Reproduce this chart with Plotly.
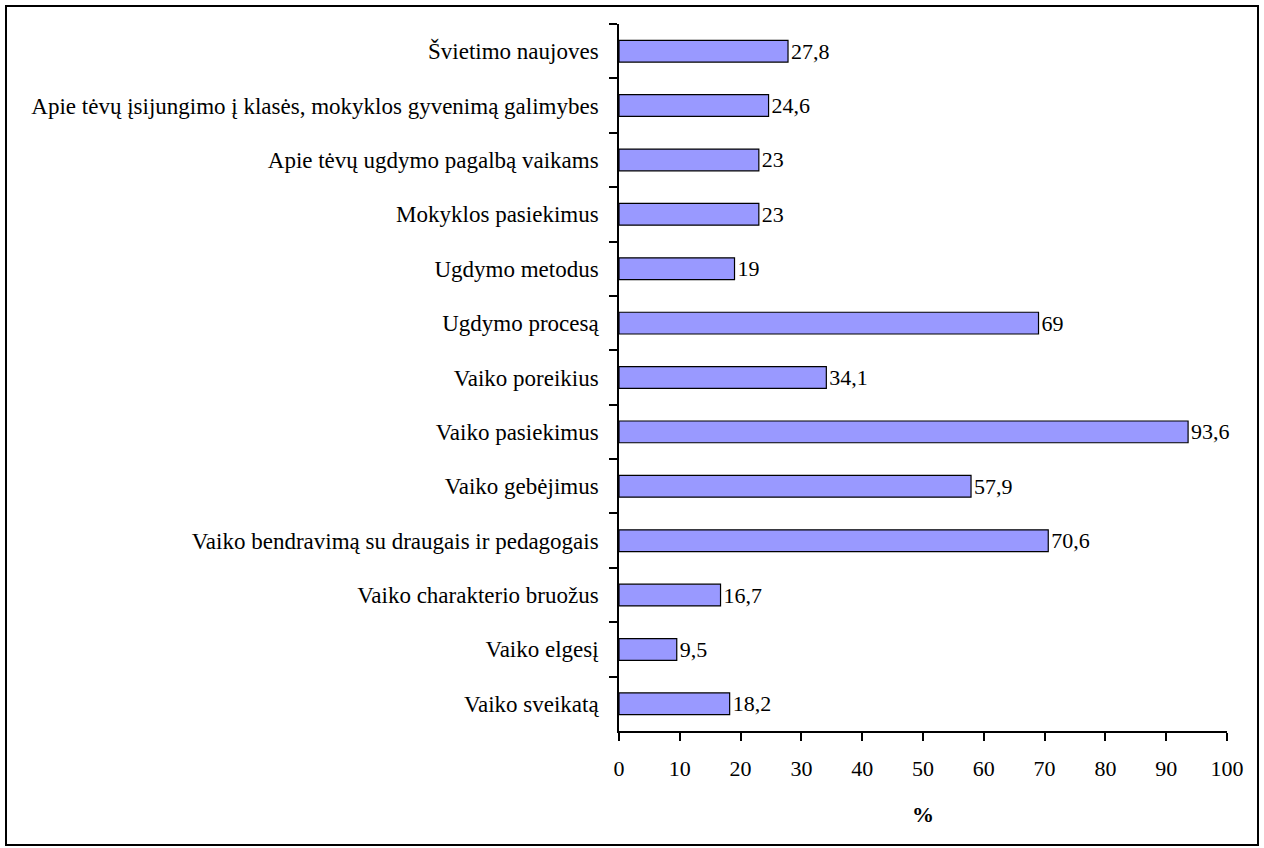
import plotly.graph_objects as go

categories = [
    "Švietimo naujoves",
    "Apie tėvų įsijungimo į klasės, mokyklos gyvenimą galimybes",
    "Apie tėvų ugdymo pagalbą vaikams",
    "Mokyklos pasiekimus",
    "Ugdymo metodus",
    "Ugdymo procesą",
    "Vaiko poreikius",
    "Vaiko pasiekimus",
    "Vaiko gebėjimus",
    "Vaiko bendravimą su draugais ir pedagogais",
    "Vaiko charakterio bruožus",
    "Vaiko elgesį",
    "Vaiko sveikatą",
]
values = [27.8, 24.6, 23, 23, 19, 69, 34.1, 93.6, 57.9, 70.6, 16.7, 9.5, 18.2]
x_ticks = [0, 10, 20, 30, 40, 50, 60, 70, 80, 90, 100]

labels = [("%g" % v).replace(".", ",") for v in values]

FONT = "Liberation Serif"

fig = go.Figure(go.Bar(
    x=values, y=categories, orientation="h",
    marker=dict(color="#9999FF", line=dict(color="black", width=1.2)),
    text=labels, textposition="outside", cliponaxis=False,
    constraintext="none",
    textfont=dict(family=FONT, size=22, color="black"),
))

W, H = 1264, 848
L, R, T, B = 619, 1227, 24, 731
pw, ph = R - L, B - T

def px(x):
    return (x - L) / pw

def py(y):
    return (B - y) / ph

fig.update_layout(
    width=W, height=H,
    margin=dict(l=L, r=W - R, t=T, b=H - B),
    paper_bgcolor="white", plot_bgcolor="white",
    bargap=0.6, showlegend=False,
    font=dict(family=FONT, size=22, color="black"),
    xaxis=dict(
        range=[0, 100], tickvals=x_ticks, ticks="outside", ticklen=8,
        tickwidth=1.5, tickcolor="black", showline=True, linecolor="black",
        linewidth=1.5, showgrid=False, zeroline=False,
        tickfont=dict(family=FONT, size=22, color="black"), ticklabelstandoff=9,
        title=dict(text="<b>%</b>", font=dict(family=FONT, size=22, color="black"), standoff=26),
    ),
    yaxis=dict(
        autorange="reversed", type="category", tickson="boundaries",
        ticks="outside", ticklen=8, tickwidth=1.5, tickcolor="black",
        showline=True, linecolor="black", linewidth=1.5, showgrid=False,
        tickfont=dict(family=FONT, size=23, color="black"), ticklabelstandoff=14,
    ),
    shapes=[dict(
        type="rect", xref="paper", yref="paper",
        x0=px(6), x1=px(1258), y0=py(845), y1=py(6),
        line=dict(color="black", width=2), fillcolor="rgba(0,0,0,0)",
    )],
)

fig.write_html(
    "out.html",
    config={"displayModeBar": False},
    post_script="document.body.style.margin='0';document.body.style.overflow='hidden';",
)
